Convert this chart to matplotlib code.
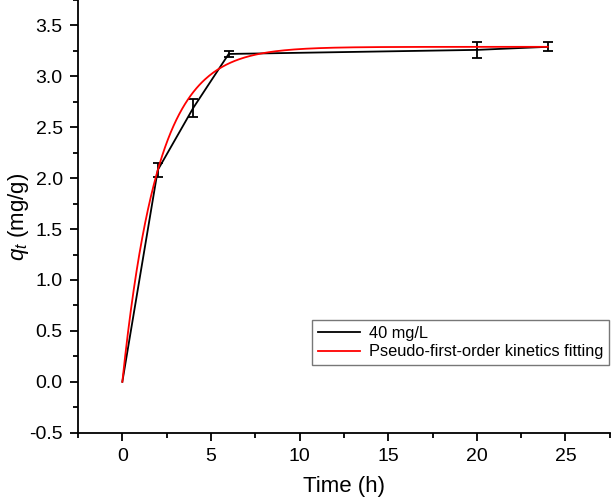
import numpy as np
import matplotlib
matplotlib.use("Agg")
import matplotlib.pyplot as plt
from matplotlib.ticker import MultipleLocator

plt.rcParams['font.family'] = ['Liberation Sans', 'DejaVu Sans']
plt.rcParams['mathtext.fontset'] = 'custom'
plt.rcParams['mathtext.rm'] = 'Liberation Sans'
plt.rcParams['mathtext.it'] = 'Liberation Sans:italic'

# measured data (40 mg/L)
time_h = [0, 2, 4, 6, 20, 24]
qt = [0.0, 2.08, 2.69, 3.22, 3.26, 3.29]
qt_err = [0.0, 0.07, 0.09, 0.03, 0.08, 0.045]

# pseudo-first-order fit parameters
qe_fit = 3.29
k1_fit = 0.50

t_fit = np.linspace(0, 24, 300)
q_fit = qe_fit * (1 - np.exp(-k1_fit * t_fit))

fig = plt.figure(figsize=(6.11, 5.0), dpi=100)
ax = fig.add_axes([0.1277, 0.1346, 0.8703, 0.8654])

ax.plot(time_h, qt, color='black', lw=1.3, label='40 mg/L', zorder=2)
# error bars (no bar at the origin point)
ax.errorbar(time_h[1:], qt[1:], yerr=qt_err[1:], fmt='none', ecolor='black',
            capsize=3.3, capthick=1.3, elinewidth=1.3, zorder=2)
ax.plot(t_fit, q_fit, color='red', lw=1.3,
        label='Pseudo-first-order kinetics fitting', zorder=3)

ax.set_xlim(-2.5, 27.5)
ax.set_ylim(-0.5, 3.75)
ax.xaxis.set_major_locator(MultipleLocator(5))
ax.xaxis.set_minor_locator(MultipleLocator(2.5))
ax.yaxis.set_minor_locator(MultipleLocator(0.25))
yt = np.arange(-0.5, 3.51, 0.5)
ax.set_yticks(yt)
ax.set_yticklabels(['%.1f' % v for v in yt])

ax.spines['top'].set_visible(False)
ax.spines['right'].set_visible(False)
for s in ['left', 'bottom']:
    ax.spines[s].set_linewidth(1.3)
ax.tick_params(which='major', direction='out', length=6, width=1.3, labelsize=14, pad=5)
ax.tick_params(which='minor', direction='out', length=3.5, width=1.3)

ax.set_xlabel('Time (h)', fontsize=16, labelpad=8)
ax.set_ylabel(r'$q_t$ (mg/g)', fontsize=16)
ax.yaxis.set_label_coords(-0.088, 0.5)

leg = ax.legend(loc='lower right', bbox_to_anchor=(0.998, 0.156), fontsize=11.8,
                frameon=True, fancybox=False, handlelength=2.6, borderpad=0.35,
                labelspacing=0.2, handletextpad=0.5, borderaxespad=0)
leg.get_frame().set_edgecolor('#555555')
leg.get_frame().set_linewidth(1.0)

fig.savefig('out.png', dpi=100)
